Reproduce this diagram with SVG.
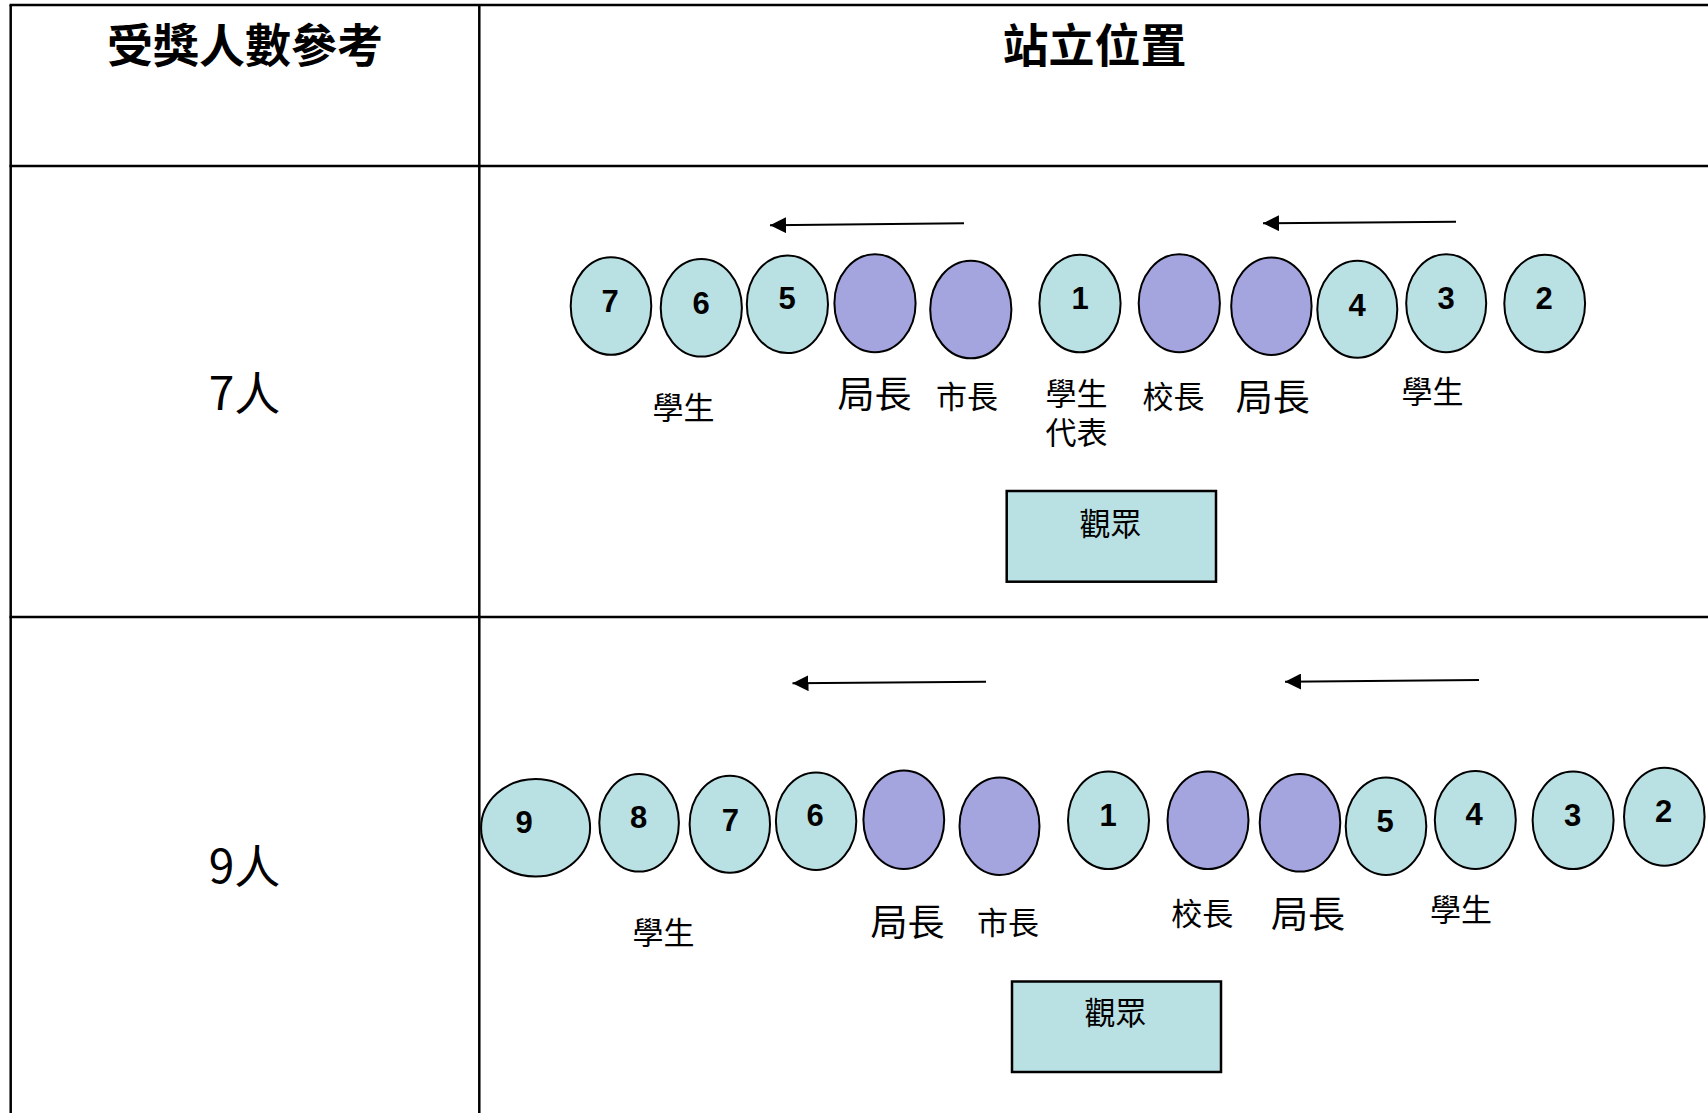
<svg xmlns="http://www.w3.org/2000/svg" width="1708" height="1113" viewBox="0 0 1708 1113">
<style>
.grid{stroke:#000;stroke-width:2.5;fill:none}
.stu{fill:#b9e0e3;stroke:#000;stroke-width:2}
.vip{fill:#a4a4de;stroke:#000;stroke-width:2}
.box{fill:#b9e0e3;stroke:#000;stroke-width:2.5}
.num{font-family:"Liberation Sans",Arial,sans-serif;font-weight:bold;font-size:31px;text-anchor:middle;fill:#000}
.lbl{font-family:"Noto Sans CJK TC","Noto Sans CJK SC",sans-serif;font-size:31px;text-anchor:middle;fill:#000}
.big{font-size:37px}
.hdr{font-family:"Noto Sans CJK TC","Noto Sans CJK SC",sans-serif;font-weight:bold;font-size:46px;text-anchor:middle;fill:#000}
.cnt{font-family:"Noto Sans CJK TC","Noto Sans CJK SC",sans-serif;font-size:46px;text-anchor:middle;fill:#000}
.arr{stroke:#000;stroke-width:2;fill:none;marker-end:url(#ah)}
</style>
<defs>
<marker id="ah" markerUnits="userSpaceOnUse" markerWidth="18" markerHeight="16" refX="16" refY="8" orient="auto">
<path d="M0,0 L16,8 L0,16 Z" fill="#000"/>
</marker>
</defs>
<rect width="1708" height="1113" fill="#fff"/>
<g id="table">
<line class="grid" x1="10.7" y1="5" x2="10.7" y2="1113"/>
<line class="grid" x1="479.3" y1="5" x2="479.3" y2="1113"/>
<line class="grid" x1="9.5" y1="5" x2="1708" y2="5"/>
<line class="grid" x1="9.5" y1="166" x2="1708" y2="166"/>
<line class="grid" x1="9.5" y1="617" x2="1708" y2="617"/>
<text class="hdr" x="245" y="62">受獎人數參考</text>
<text class="hdr" x="1094.5" y="62">站立位置</text>
<text class="cnt" x="244.6" y="410">7人</text>
<text class="cnt" x="244.6" y="883">9人</text>
</g>
<g id="connectors">
<line class="arr" x1="964" y1="223.3" x2="770" y2="225.3"/>
<line class="arr" x1="1456" y1="221.7" x2="1263" y2="223.3"/>
<line class="arr" x1="986" y1="681.7" x2="792.5" y2="683.3"/>
<line class="arr" x1="1479" y1="680" x2="1285" y2="681.7"/>
</g>
<g id="row7">
<g id="r7-s7"><ellipse class="stu" cx="611" cy="306" rx="40.3" ry="48.8"/><text class="num" x="610" y="312">7</text></g>
<g id="r7-s6"><ellipse class="stu" cx="701.3" cy="307.8" rx="40.6" ry="48.8"/><text class="num" x="701" y="314">6</text></g>
<g id="r7-s5"><ellipse class="stu" cx="787.4" cy="304.3" rx="40.6" ry="48.8"/><text class="num" x="787" y="309">5</text></g>
<g id="r7-v1"><ellipse class="vip" cx="875" cy="303.2" rx="40.6" ry="49"/></g>
<g id="r7-v2"><ellipse class="vip" cx="970.8" cy="309.5" rx="40.6" ry="48.8"/></g>
<g id="r7-s1"><ellipse class="stu" cx="1080" cy="303.5" rx="40.6" ry="48.8"/><text class="num" x="1080" y="309">1</text></g>
<g id="r7-v3"><ellipse class="vip" cx="1179.3" cy="303.2" rx="40.6" ry="49"/></g>
<g id="r7-v4"><ellipse class="vip" cx="1271.4" cy="306.2" rx="40.2" ry="48.8"/></g>
<g id="r7-s4"><ellipse class="stu" cx="1357.3" cy="309.2" rx="40" ry="48.5"/><text class="num" x="1357" y="315.5">4</text></g>
<g id="r7-s3"><ellipse class="stu" cx="1446.2" cy="303.2" rx="40" ry="49"/><text class="num" x="1446" y="308.5">3</text></g>
<g id="r7-s2"><ellipse class="stu" cx="1544.7" cy="303.5" rx="40.4" ry="48.8"/><text class="num" x="1544" y="309">2</text></g>
<g id="r7-labels">
<text class="lbl" x="683.6" y="418.5">學生</text>
<text class="lbl big" x="874.5" y="407.5">局長</text>
<text class="lbl" x="967" y="408">市長</text>
<text class="lbl" x="1076.5" y="404.5">學生<tspan x="1076.5" dy="39">代表</tspan></text>
<text class="lbl" x="1173.4" y="408">校長</text>
<text class="lbl big" x="1272.7" y="410.5">局長</text>
<text class="lbl" x="1432.5" y="403">學生</text>
</g>
<g id="r7-audience"><rect class="box" x="1006.7" y="491" width="209.3" height="90.7"/><text class="lbl" x="1110.5" y="534.5">觀眾</text></g>
</g>
<g id="row9">
<g id="r9-s9"><ellipse class="stu" cx="535.6" cy="827.8" rx="54.5" ry="48.8"/><text class="num" x="524" y="833">9</text></g>
<g id="r9-s8"><ellipse class="stu" cx="639.1" cy="822.8" rx="39.8" ry="48.8"/><text class="num" x="638.6" y="827.5">8</text></g>
<g id="r9-s7"><ellipse class="stu" cx="729.8" cy="824.2" rx="40.2" ry="48.5"/><text class="num" x="730.3" y="831">7</text></g>
<g id="r9-s6"><ellipse class="stu" cx="816.1" cy="821.2" rx="40.2" ry="48.8"/><text class="num" x="815" y="825.5">6</text></g>
<g id="r9-v1"><ellipse class="vip" cx="903.8" cy="819.8" rx="40.4" ry="49.2"/></g>
<g id="r9-v2"><ellipse class="vip" cx="999.5" cy="826.2" rx="40" ry="48.8"/></g>
<g id="r9-s1"><ellipse class="stu" cx="1108.5" cy="820.3" rx="40.5" ry="48.7"/><text class="num" x="1108" y="825.5">1</text></g>
<g id="r9-v3"><ellipse class="vip" cx="1208" cy="820.3" rx="40.5" ry="48.7"/></g>
<g id="r9-v4"><ellipse class="vip" cx="1300" cy="822.8" rx="40.3" ry="48.8"/></g>
<g id="r9-s5"><ellipse class="stu" cx="1386" cy="826.3" rx="40.3" ry="48.7"/><text class="num" x="1385" y="831.5">5</text></g>
<g id="r9-s4"><ellipse class="stu" cx="1475.3" cy="820" rx="40.5" ry="49"/><text class="num" x="1474" y="825">4</text></g>
<g id="r9-s3"><ellipse class="stu" cx="1573.1" cy="820.3" rx="40.5" ry="48.7"/><text class="num" x="1572.5" y="825.5">3</text></g>
<g id="r9-s2"><ellipse class="stu" cx="1664.3" cy="816.7" rx="40.3" ry="49"/><text class="num" x="1663.5" y="821.5">2</text></g>
<g id="r9-labels">
<text class="lbl" x="663.5" y="944">學生</text>
<text class="lbl big" x="907.5" y="935.5">局長</text>
<text class="lbl" x="1008" y="934">市長</text>
<text class="lbl" x="1202.3" y="924.5">校長</text>
<text class="lbl big" x="1308" y="928">局長</text>
<text class="lbl" x="1461" y="920.5">學生</text>
</g>
<g id="r9-audience"><rect class="box" x="1012" y="981.5" width="209" height="90.5"/><text class="lbl" x="1115.5" y="1024">觀眾</text></g>
</g>
</svg>
